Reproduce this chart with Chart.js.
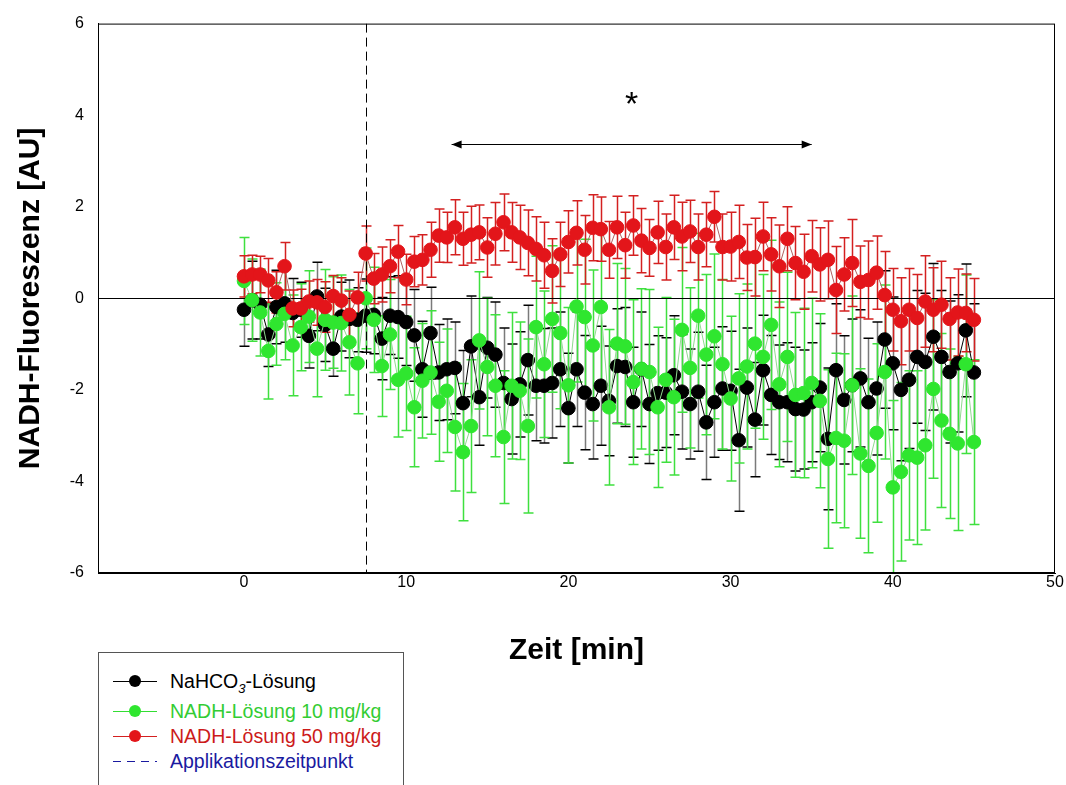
<!DOCTYPE html>
<html>
<head>
<meta charset="utf-8">
<script src="https://cdn.jsdelivr.net/npm/chart.js@4/dist/chart.umd.min.js"></script>
<style>
body{margin:0;background:#fff;font-family:"Liberation Sans",Arial,sans-serif}
#wrap{position:relative;width:1066px;height:785px;overflow:hidden}
#legend{position:absolute;left:98px;top:652px;width:304px;height:150px;border:1px solid #555;background:#fff}
.row{position:absolute;left:0;width:300px;height:22px;font-size:19.5px;line-height:22px}
.row .ln{position:absolute;left:14px;top:11px;width:44px;height:1px}
.row .dot{position:absolute;left:30px;top:5px;width:12px;height:12px;border-radius:50%}
.row .dash{position:absolute;left:14px;top:11px;width:44px;height:1px;
  background:repeating-linear-gradient(90deg,#1a1aa0 0 8px,transparent 8px 14px)}
.row .tx{position:absolute;left:71px;top:0;white-space:nowrap}
sub{font-size:13px;line-height:0}
</style>
</head>
<body>
<div id="wrap">
<canvas id="chart" width="1066" height="785"></canvas>
<div id="legend">
  <div class="row" style="top:17px"><span class="ln" style="background:#000"></span><span class="dot" style="background:#000"></span><span class="tx" style="color:#000">NaHCO<sub><i>3</i></sub>-Lösung</span></div>
  <div class="row" style="top:47px"><span class="ln" style="background:#33dd33"></span><span class="dot" style="background:#2fe62f"></span><span class="tx" style="color:#33cc33">NADH-Lösung 10 mg/kg</span></div>
  <div class="row" style="top:72px"><span class="ln" style="background:#d42020"></span><span class="dot" style="background:#e3151a"></span><span class="tx" style="color:#cc1a1a">NADH-Lösung 50 mg/kg</span></div>
  <div class="row" style="top:97px"><span class="dash"></span><span class="tx" style="color:#1a1aa0">Applikationszeitpunkt</span></div>
</div>
</div>
<script>
// Zeit in Minuten
const times = [0,0.5,1,1.5,2,2.5,3,3.5,4,4.5,5,5.5,6,6.5,7,7.5,8,8.5,9,9.5,
  10,10.5,11,11.5,12,12.5,13,13.5,14,14.5,15,15.5,16,16.5,17,17.5,18,18.5,19,19.5,
  20,20.5,21,21.5,22,22.5,23,23.5,24,24.5,25,25.5,26,26.5,27,27.5,28,28.5,29,29.5,
  30,30.5,31,31.5,32,32.5,33,33.5,34,34.5,35,35.5,36,36.5,37,37.5,38,38.5,39,39.5,
  40,40.5,41,41.5,42,42.5,43,43.5,44,44.5,45];

// NaHCO3-Lösung
const nahco3 = [-0.25,-0.04,-0.14,-0.79,-0.19,-0.11,-0.32,-0.25,-0.82,0.04,-0.58,-1.10,-0.40,-0.45,-0.47,
  -0.38,-0.36,-0.88,-0.38,-0.41,
  -0.52,-0.81,-1.55,-0.76,-1.62,-1.55,-1.52,-2.29,-1.05,-2.16,
  -1.08,-1.23,-1.85,-2.20,-1.88,-1.35,-1.91,-1.91,-1.85,-1.55,
  -2.40,-1.55,-2.06,-2.31,-1.91,-2.24,-1.48,-1.50,-2.27,-1.55,
  -2.31,-2.07,-2.06,-1.68,-2.04,-2.31,-2.04,-2.71,-2.27,-1.97,
  -2.02,-3.10,-1.95,-2.65,-1.57,-2.11,-2.27,-2.27,-2.42,-2.43,
  -2.27,-1.95,-3.07,-1.57,-2.22,-1.90,-1.75,-2.27,-1.97,-0.90,
  -1.42,-2.00,-1.78,-1.28,-1.39,-0.84,-1.28,-1.61,-1.42,-0.70,
  -1.62];
const nahco3Err = [0.80,0.85,0.75,0.70,0.80,0.85,0.75,0.60,0.70,0.75,0.80,0.60,0.75,0.85,0.70,
  0.80,0.85,0.90,0.85,0.90,
  0.95,1.00,1.05,1.00,1.05,1.10,1.00,1.15,1.10,1.05,
  1.10,1.15,1.20,1.20,1.15,1.20,1.20,1.25,1.20,1.25,
  1.20,1.25,1.25,1.20,1.30,1.20,1.25,1.30,1.20,1.25,
  1.30,1.25,1.20,1.30,1.25,1.20,1.30,1.25,1.20,1.35,
  1.30,1.55,1.30,1.25,1.20,1.30,1.25,1.30,1.35,1.30,
  1.30,1.40,1.55,1.45,1.40,1.45,1.50,1.40,1.45,1.50,
  1.45,1.55,1.50,1.45,1.50,1.60,1.45,1.55,1.50,1.45,
  1.50];

// NADH-Lösung 10 mg/kg
const nadh10 = [0.38,-0.04,-0.31,-1.15,-0.56,-0.34,-1.03,-0.63,-0.40,-1.10,-0.47,-0.53,-0.54,-0.96,-1.42,
  0.00,-0.47,-1.48,-0.79,-1.78,
  -1.64,-2.38,-1.80,-1.62,-2.26,-2.02,-2.81,-3.36,-2.79,-0.92,
  -1.50,-1.91,-3.03,-1.91,-2.02,-2.79,-0.63,-1.44,-0.45,-0.76,
  -1.90,-0.18,-0.41,-1.03,-0.19,-2.38,-0.99,-1.05,-1.83,-1.54,
  -1.61,-2.38,-1.78,-2.16,-0.69,-1.52,-0.38,-1.23,-0.83,-1.44,
  -2.19,-1.75,-1.49,-0.99,-1.28,-0.58,-1.88,-1.28,-2.11,-2.07,
  -1.85,-2.24,-3.51,-3.05,-3.11,-1.90,-3.39,-3.66,-2.94,-1.61,
  -4.13,-3.79,-3.43,-3.48,-3.21,-1.98,-2.67,-2.96,-3.17,-1.44,
  -3.14];
const nadh10Err = [0.95,0.90,0.95,1.05,0.90,1.00,1.10,0.95,1.00,1.05,1.10,1.00,1.05,1.15,1.10,
  1.10,1.15,1.10,1.20,1.25,
  1.25,1.30,1.25,1.35,1.30,1.35,1.40,1.50,1.45,1.50,
  1.50,1.55,1.45,1.60,1.50,1.90,1.55,1.60,1.60,1.65,
  1.70,1.65,1.70,1.65,1.75,1.70,1.75,1.70,1.80,1.75,
  1.80,1.75,1.80,1.70,1.80,1.75,1.80,1.75,1.80,1.85,
  1.80,1.85,1.80,1.85,1.80,1.85,1.80,1.85,1.80,1.85,
  1.85,1.90,1.95,1.85,1.90,1.95,1.85,1.90,1.95,1.90,
  1.90,1.95,1.85,1.90,1.85,1.95,1.90,1.85,1.90,1.95,
  1.80];

// NADH-Lösung 50 mg/kg
const nadh50 = [0.48,0.52,0.52,0.39,0.13,0.70,-0.22,-0.22,-0.07,-0.09,-0.19,0.05,-0.05,-0.36,0.02,
  0.98,0.43,0.52,0.70,1.02,
  0.41,0.80,0.84,1.06,1.37,1.33,1.55,1.30,1.39,1.44,
  1.11,1.41,1.66,1.44,1.33,1.21,1.08,0.94,0.60,0.96,
  1.23,1.43,1.06,1.54,1.51,1.06,1.55,1.16,1.59,1.26,
  1.10,1.44,1.12,1.55,1.35,1.46,1.12,1.39,1.78,1.12,
  1.13,1.23,0.89,0.90,1.35,0.96,0.70,1.30,0.77,0.58,
  0.92,0.74,0.84,0.18,0.52,0.77,0.36,0.40,0.56,0.07,
  -0.25,-0.50,-0.25,-0.43,-0.07,-0.25,-0.14,-0.45,-0.31,-0.32,
  -0.47];
const nadh50Err = [0.45,0.42,0.40,0.48,0.45,0.52,0.40,0.42,0.45,0.50,0.55,0.45,0.50,0.52,0.55,
  0.60,0.55,0.60,0.58,0.57,
  0.55,0.55,0.55,0.60,0.58,0.55,0.60,0.58,0.62,0.60,
  0.65,0.68,0.62,0.65,0.70,0.72,0.70,0.72,0.70,0.70,
  0.68,0.70,0.75,0.72,0.70,0.62,0.68,0.72,0.65,0.70,
  0.62,0.68,0.72,0.70,0.75,0.68,0.72,0.70,0.55,0.72,
  0.75,0.80,0.72,0.85,0.75,0.80,0.90,0.70,0.80,0.82,
  0.78,0.80,0.85,0.95,0.80,0.95,0.78,0.85,0.80,0.95,
  0.90,0.95,0.90,0.95,1.00,0.92,0.95,0.90,0.95,0.85,
  0.90];

const xTicks = [0, 10, 20, 30, 40, 50];
const applicationTime = 7.5;
const sigRange = [12.8, 35.0];   // Pfeil
const sigLevel = 3.37;
const starPos = [23.9, 4.3];

const FONT = '"Liberation Sans", Arial, sans-serif';

function points(vals){
    return times.map((t, i) => ({x: t, y: vals[i]}));
}

function series(label, vals, err, color, lineColor, barColor, capColor, order){
    return {
        label: label,
        data: points(vals),
        err: err,
        barColor: barColor,
        capColor: capColor,
        borderColor: lineColor,
        borderWidth: 1,
        backgroundColor: color,
        pointBackgroundColor: color,
        pointBorderColor: color,
        pointBorderWidth: 1,
        pointRadius: 6.8,
        tension: 0,
        order: order
    };
}

const extras = {
    id: 'extras',
    beforeDatasetsDraw(chart){
        const {ctx, chartArea: a, scales: {x, y}} = chart;
        ctx.save();
        ctx.beginPath();
        ctx.rect(a.left, a.top, a.right - a.left, a.bottom - a.top);
        ctx.clip();
        // Fehlerbalken
        const metas = chart.getSortedVisibleDatasetMetas().slice().reverse();
        metas.forEach(meta => {
            const ds = chart.data.datasets[meta.index];
            ds.data.forEach((p, i) => {
                const px = Math.round(x.getPixelForValue(p.x)) + 0.5;
                const top = y.getPixelForValue(p.y + ds.err[i]);
                const bot = y.getPixelForValue(p.y - ds.err[i]);
                ctx.strokeStyle = ds.barColor;
                ctx.lineWidth = 1.5;
                ctx.beginPath();
                ctx.moveTo(px, top); ctx.lineTo(px, bot);
                ctx.stroke();
                ctx.strokeStyle = ds.capColor;
                ctx.beginPath();
                ctx.moveTo(px - 5, top); ctx.lineTo(px + 5, top);
                ctx.moveTo(px - 5, bot); ctx.lineTo(px + 5, bot);
                ctx.stroke();
            });
        });
        // Nulllinie
        const y0 = Math.round(y.getPixelForValue(0)) + 0.5;
        ctx.strokeStyle = '#000';
        ctx.lineWidth = 1;
        ctx.beginPath();
        ctx.moveTo(a.left, y0); ctx.lineTo(a.right, y0);
        ctx.stroke();
        // Applikationszeitpunkt
        const xa = Math.round(x.getPixelForValue(applicationTime)) + 0.5;
        ctx.setLineDash([9, 5]);
        ctx.beginPath();
        ctx.moveTo(xa, a.top); ctx.lineTo(xa, a.bottom);
        ctx.stroke();
        ctx.setLineDash([]);
        ctx.restore();
    },
    afterDraw(chart){
        const {ctx, chartArea: a, scales: {x, y}} = chart;
        ctx.save();
        // Rahmen
        ctx.strokeStyle = '#000';
        ctx.lineWidth = 1;
        ctx.strokeRect(a.left + 0.5, a.top + 0.5, a.right - a.left - 1, a.bottom - a.top - 1);
        // Doppelpfeil
        const x1 = x.getPixelForValue(sigRange[0]);
        const x2 = x.getPixelForValue(sigRange[1]);
        const ya = Math.round(y.getPixelForValue(sigLevel)) + 0.5;
        ctx.beginPath();
        ctx.moveTo(x1, ya); ctx.lineTo(x2, ya);
        ctx.stroke();
        ctx.fillStyle = '#000';
        ctx.beginPath();
        ctx.moveTo(x1, ya); ctx.lineTo(x1 + 10, ya - 4); ctx.lineTo(x1 + 10, ya + 4); ctx.closePath();
        ctx.moveTo(x2, ya); ctx.lineTo(x2 - 10, ya - 4); ctx.lineTo(x2 - 10, ya + 4); ctx.closePath();
        ctx.fill();
        // Signifikanz
        ctx.font = '34px ' + FONT;
        ctx.textAlign = 'center';
        ctx.textBaseline = 'middle';
        ctx.fillText('*', x.getPixelForValue(starPos[0]), y.getPixelForValue(starPos[1]) + 4);
        ctx.restore();
    }
};

new Chart(document.getElementById('chart'), {
    type: 'line',
    data: {
        datasets: [
            series('NaHCO3-Lösung', nahco3, nahco3Err, '#000000', '#000000', '#7a7a7a', '#000000', 2),
            series('NADH-Lösung 10 mg/kg', nadh10, nadh10Err, '#2fe62f', '#8fd98f', '#3fe03f', '#3fe03f', 1),
            series('NADH-Lösung 50 mg/kg', nadh50, nadh50Err, '#e3151a', '#b06060', '#d42020', '#d42020', 0)
        ]
    },
    options: {
        responsive: false,
        devicePixelRatio: 1,
        animation: false,
        layout: {padding: {top: 19, right: 11, left: 0, bottom: 0}},
        plugins: {legend: {display: false}, tooltip: {enabled: false}},
        scales: {
            x: {
                type: 'linear',
                min: -9,
                max: 50,
                afterBuildTicks: s => { s.ticks = xTicks.map(v => ({value: v})); },
                afterFit: s => { s.height = 212; },
                grid: {display: false, drawTicks: false, tickLength: 0},
                border: {display: true, color: '#000'},
                ticks: {color: '#000', padding: 0, font: {family: FONT, size: 16}},
                title: {display: true, text: 'Zeit [min]', color: '#000',
                        font: {family: FONT, size: 30, weight: 'bold'}, padding: {top: 0, bottom: 116}}
            },
            y: {
                min: -6,
                max: 6,
                afterFit: s => { s.width = 98; },
                grid: {display: false, drawTicks: false, tickLength: 0},
                border: {display: true, color: '#000'},
                ticks: {stepSize: 2, color: '#000', padding: 14, font: {family: FONT, size: 16}},
                title: {display: true, text: 'NADH-Fluoreszenz [AU]', color: '#000',
                        font: {family: FONT, size: 30, weight: 'bold'}, padding: {top: 13, bottom: 0}}
            }
        }
    },
    plugins: [extras]
});
</script>
</body>
</html>
